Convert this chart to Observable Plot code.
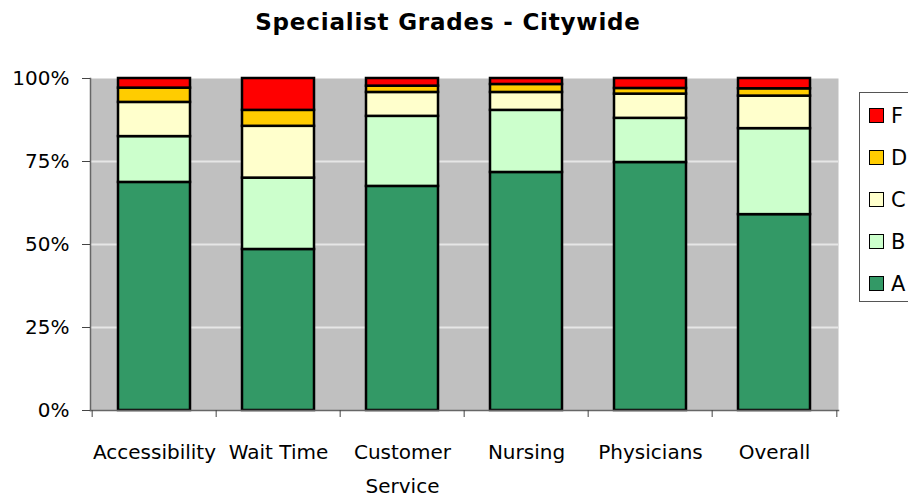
<!DOCTYPE html>
<html>
<head>
<meta charset="utf-8">
<script src="https://cdn.jsdelivr.net/npm/d3@7"></script>
<script src="https://cdn.jsdelivr.net/npm/@observablehq/plot@0.6"></script>
<style>
  html, body { margin: 0; padding: 0; background: white; overflow: hidden; width: 908px; height: 496px; }
  #wrap { position: relative; width: 908px; height: 496px; font-family: "DejaVu Sans", sans-serif; }
  #title { height: 46px; line-height: 44px; text-align: center; padding-right: 12px; font-size: 23px; letter-spacing: 0.8px; font-weight: bold; color: #000; }
  #legend { position: absolute; left: 859px; top: 92px; width: 80px; height: 210px; border: 1px solid #555; background: white; box-sizing: border-box; }
  .item { position: absolute; left: 9px; height: 22px; font-size: 21px; line-height: 22px; color: #000; }
  .sw { position: absolute; left: 0; top: 3px; width: 13px; height: 13px; border: 1.5px solid #000; }
  .lab { position: absolute; left: 22px; top: 0; }
</style>
</head>
<body>
<div id="wrap">
  <div id="title">Specialist Grades - Citywide</div>
  <div id="chart"></div>
  <div id="legend"></div>
</div>
<script>
const categories = ["Accessibility", "Wait Time", "Customer Service", "Nursing", "Physicians", "Overall"];
const grades = ["A", "B", "C", "D", "F"];
const gradeColors = ["#339966", "#CCFFCC", "#FFFFCC", "#FFCC00", "#FF0000"];
const valuesA = [68.7, 48.5, 67.5, 71.7, 74.7, 59.0];
const valuesB = [13.8, 21.5, 21.1, 18.7, 13.3, 25.9];
const valuesC = [10.3, 15.6, 7.2, 5.4, 7.3, 9.8];
const valuesD = [4.3, 4.8, 1.9, 2.4, 1.7, 2.2];
const valuesF = [2.9, 9.6, 2.3, 1.8, 3.0, 3.1];
const yTicks = [0, 25, 50, 75, 100];

const series = [valuesA, valuesB, valuesC, valuesD, valuesF];
const rows = [];
categories.forEach((c, i) => grades.forEach((g, j) => rows.push({cat: c, grade: g, value: series[j][i]})));

const W = 908, H = 450, mT = 32, mB = 86, mL = 90, mR = 70;
const step = (W - mL - mR) / categories.length;

const chart = Plot.plot({
  width: W, height: H,
  marginTop: mT, marginBottom: mB, marginLeft: mL, marginRight: mR,
  style: {fontFamily: "DejaVu Sans, sans-serif", fontSize: "20px", background: "white", color: "black", overflow: "visible"},
  x: {domain: categories, paddingInner: 0.42, paddingOuter: 0.21, axis: null, label: null},
  y: {domain: [0, 100], axis: null, label: null},
  color: {domain: grades, range: gradeColors},
  marks: [
    Plot.frame({fill: "#c0c0c0", stroke: null}),
    Plot.ruleY([25, 50, 75], {stroke: "#e6e6e6", strokeWidth: 2}),
    Plot.barY(rows, {x: "cat", y: "value", fill: "grade", stroke: "black", strokeWidth: 2.5, order: grades}),
    Plot.frame({anchor: "left", stroke: "#666", strokeWidth: 1.5}),
    Plot.frame({anchor: "bottom", stroke: "#666", strokeWidth: 1.5}),
    Plot.tickX(categories, {x: d => d, dx: -step / 2, y: null, insetTop: H - mT - mB, insetBottom: -7, stroke: "#444"}),
    Plot.tickX([categories[categories.length - 1]], {x: d => d, dx: step / 2, y: null, insetTop: H - mT - mB, insetBottom: -7, stroke: "#444"}),
    Plot.axisY({ticks: yTicks, tickFormat: d => d + "%", tickSize: 8, tickPadding: 13, fontSize: 20, stroke: "#444", label: null}),
    Plot.axisX({tickSize: 0, tickPadding: 24, fontSize: 20, lineHeight: 1.7, label: null,
      tickFormat: d => d === "Customer Service" ? "Customer\nService" : d})
  ]
});
document.getElementById("chart").appendChild(chart);

const legend = document.getElementById("legend");
grades.slice().reverse().forEach((g, k) => {
  const idx = grades.indexOf(g);
  const it = document.createElement("div");
  it.className = "item";
  it.style.top = (12 + k * 42) + "px";
  it.innerHTML = `<div class="sw" style="background:${gradeColors[idx]}"></div><div class="lab">${g}</div>`;
  legend.appendChild(it);
});
</script>
</body>
</html>
